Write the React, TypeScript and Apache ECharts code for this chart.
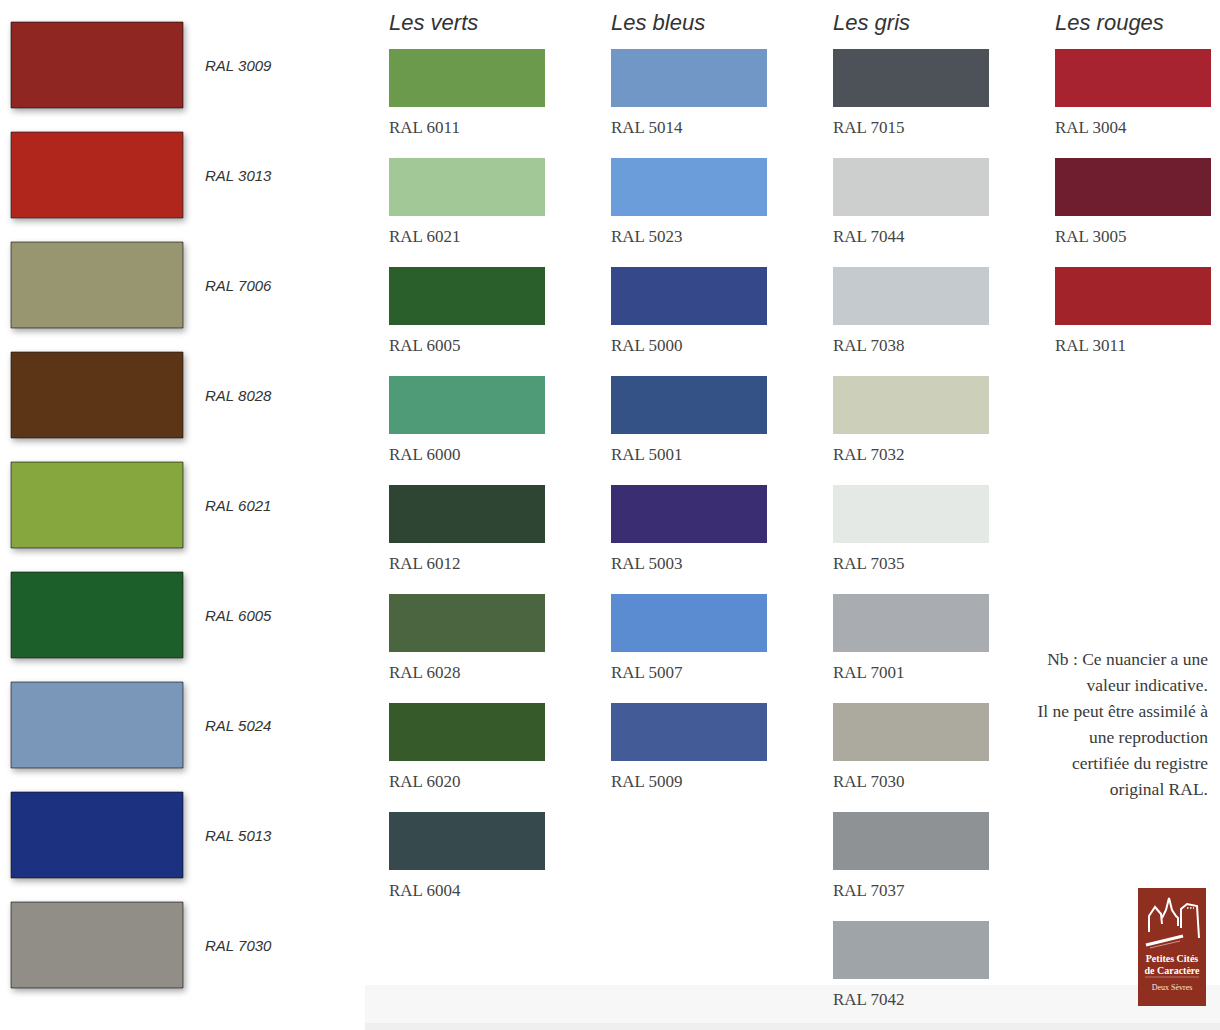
import React, { useEffect, useRef } from "react";
import * as echarts from "echarts";

// ---------- data ----------
const leftCodes = ["RAL 3009", "RAL 3013", "RAL 7006", "RAL 8028", "RAL 6021", "RAL 6005", "RAL 5024", "RAL 5013", "RAL 7030"];
const leftColors = ["#8f2521", "#b1271f", "#98966f", "#5c3619", "#85a73e", "#1f5e2a", "#7a97b9", "#1c3380", "#918e87"];

const families = ["Les verts", "Les bleus", "Les gris", "Les rouges"];

const vertsCodes = ["RAL 6011", "RAL 6021", "RAL 6005", "RAL 6000", "RAL 6012", "RAL 6028", "RAL 6020", "RAL 6004"];
const vertsColors = ["#6c9a4c", "#a3c898", "#2a5e2b", "#4f9a77", "#2f4533", "#4b6541", "#365a2a", "#36494d"];

const bleusCodes = ["RAL 5014", "RAL 5023", "RAL 5000", "RAL 5001", "RAL 5003", "RAL 5007", "RAL 5009"];
const bleusColors = ["#7097c6", "#6c9ddb", "#35498a", "#355286", "#3b2d72", "#5b8bd0", "#435c98"];

const grisCodes = ["RAL 7015", "RAL 7044", "RAL 7038", "RAL 7032", "RAL 7035", "RAL 7001", "RAL 7030", "RAL 7037", "RAL 7042"];
const grisColors = ["#4d5259", "#cdcfcf", "#c4cace", "#cccfb9", "#e4e9e5", "#a9adb2", "#aca99f", "#8f9295", "#9fa4a9"];

const rougesCodes = ["RAL 3004", "RAL 3005", "RAL 3011"];
const rougesColors = ["#a7232f", "#6e1e2e", "#a3232a"];

const noteLines = [
  "Nb : Ce nuancier a une",
  "valeur indicative.",
  "Il ne peut être assimilé à",
  "une reproduction",
  "certifiée du registre",
  "original RAL.",
];

const logoLines = ["Petites Cités", "de Caractère", "Deux Sèvres"];

// ---------- derived ----------
const familyCodes = [vertsCodes, bleusCodes, grisCodes, rougesCodes];
const familyColors = [vertsColors, bleusColors, grisColors, rougesColors];

const rightItems: { f: number; r: number; code: string; color: string }[] = [];
familyCodes.forEach((codes, f) => {
  codes.forEach((code, r) => {
    rightItems.push({ f, r, code, color: familyColors[f][r] });
  });
});
const rowCats = Array.from({ length: 9 }, (_, i) => String(i));

export default function App() {
  const ref = useRef<HTMLDivElement>(null);
  useEffect(() => {
    if (!ref.current) return;
    const chart = echarts.init(ref.current, undefined, { renderer: "svg" });
    const serifFont = "'Liberation Serif', 'DejaVu Serif', serif";
    const sansFont = "'Liberation Sans', Arial, sans-serif";
    const white = "#ffffff";

    const option: any = {
      animation: false,
      backgroundColor: "#ffffff",
      grid: [
        { left: 11, top: 10, width: 172, height: 990 },
        { left: 389, top: 49, width: 666, height: 981 },
      ],
      xAxis: [
        { type: "category", gridIndex: 0, data: ["left"], show: false },
        { type: "value", gridIndex: 1, min: 0, max: families.length - 1, show: false },
      ],
      yAxis: [
        { type: "category", gridIndex: 0, data: leftCodes, inverse: true, show: false },
        { type: "category", gridIndex: 1, data: rowCats, inverse: true, show: false },
      ],
      graphic: [
        {
          type: "rect",
          z: -10,
          shape: { x: 365, y: 985, width: 855, height: 38 },
          style: { fill: "#f7f7f7" },
          silent: true,
        },
        {
          type: "rect",
          z: -10,
          shape: { x: 365, y: 1023, width: 855, height: 7 },
          style: { fill: "#efefef" },
          silent: true,
        },
        {
          type: "text",
          x: 1208,
          y: 646,
          style: {
            text: noteLines.join("\n"),
            font: `17.5px ${serifFont}`,
            fill: "#3a3a3a",
            align: "right",
            verticalAlign: "top",
            lineHeight: 26,
          },
        },
        {
          type: "group",
          x: 1138,
          y: 888,
          children: [
            { type: "rect", shape: { x: 0, y: 0, width: 68, height: 118 }, style: { fill: "#8e2f1f" } },
            {
              type: "polyline",
              shape: { points: [[11, 44], [11, 28], [17, 19], [23, 26], [24, 36]] },
              style: { stroke: white, lineWidth: 2, fill: null },
            },
            {
              type: "polyline",
              shape: { points: [[24, 30], [28, 22], [31, 10], [34, 22], [38, 28], [40, 30], [40, 38]] },
              style: { stroke: white, lineWidth: 2, fill: null },
            },
            {
              type: "polyline",
              shape: { points: [[43, 40], [43, 21], [49, 16], [59, 18], [61, 50]] },
              style: { stroke: white, lineWidth: 2, fill: null },
            },
            {
              type: "line",
              shape: { x1: 49, y1: 20, x2: 56, y2: 20 },
              style: { stroke: white, lineWidth: 1.5, lineDash: [1.5, 1.5] },
            },
            {
              type: "line",
              shape: { x1: 8, y1: 57, x2: 45, y2: 48 },
              style: { stroke: white, lineWidth: 3 },
            },
            {
              type: "line",
              shape: { x1: 12, y1: 60, x2: 42, y2: 53 },
              style: { stroke: "rgba(255,255,255,0.5)", lineWidth: 1 },
            },
            {
              type: "text",
              x: 34,
              y: 70,
              style: {
                text: logoLines[0],
                font: `bold 10px ${serifFont}`,
                fill: white,
                align: "center",
                verticalAlign: "middle",
              },
            },
            {
              type: "text",
              x: 34,
              y: 82,
              style: {
                text: logoLines[1],
                font: `bold 10px ${serifFont}`,
                fill: white,
                align: "center",
                verticalAlign: "middle",
              },
            },
            {
              type: "line",
              shape: { x1: 7, y1: 89, x2: 61, y2: 89 },
              style: { stroke: "rgba(255,255,255,0.6)", lineWidth: 0.6 },
            },
            {
              type: "text",
              x: 34,
              y: 99,
              style: {
                text: logoLines[2],
                font: `8px ${serifFont}`,
                fill: "#f3e6e2",
                align: "center",
                verticalAlign: "middle",
              },
            },
          ],
        },
      ],
      series: [
        {
          type: "custom",
          xAxisIndex: 0,
          yAxisIndex: 0,
          clip: false,
          data: leftCodes.map((_, i) => [0, i]),
          renderItem: (params: any, api: any) => {
            const i = params.dataIndex;
            const c = api.coord([api.value(0), api.value(1)]);
            const s = api.size([1, 1]);
            const x0 = c[0] - s[0] / 2;
            const h = 86;
            const y0 = c[1] - h / 2;
            return {
              type: "group",
              children: [
                {
                  type: "rect",
                  shape: { x: x0, y: y0, width: s[0], height: h },
                  style: {
                    fill: leftColors[i],
                    stroke: "rgba(20,20,20,0.65)",
                    lineWidth: 1,
                    shadowBlur: 6,
                    shadowOffsetX: 2,
                    shadowOffsetY: 3,
                    shadowColor: "rgba(0,0,0,0.35)",
                  },
                },
                {
                  type: "text",
                  x: x0 + 194,
                  y: c[1],
                  style: {
                    text: leftCodes[i],
                    font: `italic 15px ${sansFont}`,
                    fill: "#333333",
                    align: "left",
                    verticalAlign: "middle",
                  },
                },
              ],
            };
          },
        },
        {
          type: "custom",
          xAxisIndex: 1,
          yAxisIndex: 1,
          clip: false,
          data: rightItems.map((d) => [d.f, d.r]),
          renderItem: (params: any, api: any) => {
            const d = rightItems[params.dataIndex];
            const c = api.coord([api.value(0), api.value(1)]);
            const s = api.size([1, 1]);
            const x0 = c[0];
            const y0 = c[1] - s[1] / 2;
            const w = 156;
            const h = 58;
            const children: any[] = [
              {
                type: "rect",
                shape: { x: x0, y: y0, width: w, height: h },
                style: { fill: d.color },
              },
              {
                type: "text",
                x: x0,
                y: y0 + 78,
                style: {
                  text: d.code,
                  font: `17px ${serifFont}`,
                  fill: "#444444",
                  align: "left",
                  verticalAlign: "middle",
                },
              },
            ];
            if (d.r === 0) {
              children.push({
                type: "text",
                x: x0,
                y: y0 - 27,
                style: {
                  text: families[d.f],
                  font: `italic 22px ${sansFont}`,
                  fill: "#333333",
                  align: "left",
                  verticalAlign: "middle",
                },
              });
            }
            return { type: "group", children };
          },
        },
      ],
    };
    chart.setOption(option);
    return () => chart.dispose();
  }, []);
  return (
    <div
      ref={ref}
      style={{ position: "absolute", left: 0, top: 0, width: 1220, height: 1030 }}
    />
  );
}
